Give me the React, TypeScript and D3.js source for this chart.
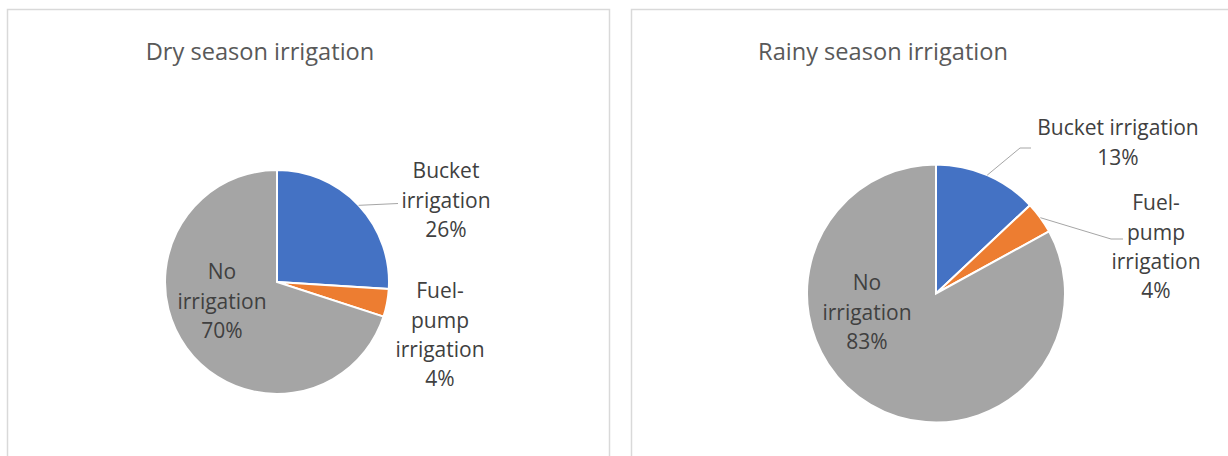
import React from "react";
import * as d3 from "d3";

// Irrigation method shares (%), clockwise from 12 o'clock
const categories = ["Bucket irrigation", "Fuel-pump irrigation", "No irrigation"];
const drySeason = [26, 4, 70];
const rainySeason = [13, 4, 83];
const titles = ["Dry season irrigation", "Rainy season irrigation"];

const colors = ["#4472c4", "#ed7d31", "#a5a5a5"];

type LabelLayout = {
  x: number;
  y: number;
  lines: string[];
  leader?: [number, number][]; // elbow points after the slice edge
};

type Panel = {
  title: string;
  values: number[];
  frame: { x: number; y: number; w: number; h: number };
  titleX: number;
  cx: number;
  cy: number;
  r: number;
  labels: LabelLayout[];
};

const fmt = (v: number) => `${v}%`;

const panels: Panel[] = [
  {
    title: titles[0],
    values: drySeason,
    frame: { x: 7.5, y: 9.5, w: 602, h: 470 },
    titleX: 260,
    cx: 277,
    cy: 282,
    r: 112,
    labels: [
      { x: 446, y: 171, lines: ["Bucket", "irrigation", fmt(drySeason[0])], leader: [[398, 203.5]] },
      { x: 440, y: 291, lines: ["Fuel-", "pump", "irrigation", fmt(drySeason[1])] },
      { x: 222, y: 272, lines: ["No", "irrigation", fmt(drySeason[2])] },
    ],
  },
  {
    title: titles[1],
    values: rainySeason,
    frame: { x: 631.5, y: 9.5, w: 640, h: 470 },
    titleX: 883,
    cx: 936,
    cy: 293.5,
    r: 129,
    labels: [
      { x: 1118, y: 128, lines: ["Bucket irrigation", fmt(rainySeason[0])], leader: [[1020, 148], [1031, 148]] },
      { x: 1156, y: 203, lines: ["Fuel-", "pump", "irrigation", fmt(rainySeason[1])], leader: [[1111, 239], [1123, 239]] },
      { x: 867, y: 283, lines: ["No", "irrigation", fmt(rainySeason[2])] },
    ],
  },
];

const FONT = "'Open Sans', Lato, sans-serif";

function PiePanel({ p }: { p: Panel }) {
  const pie = d3
    .pie<number>()
    .sort(null)
    .value((d) => d)
    .startAngle(0)
    .endAngle(2 * Math.PI);
  const arcs = pie(p.values);
  const arc = d3.arc<d3.PieArcDatum<number>>().innerRadius(0).outerRadius(p.r);
  const lineHeight = 29.3;

  return (
    <g>
      <rect
        x={p.frame.x}
        y={p.frame.y}
        width={p.frame.w}
        height={p.frame.h}
        fill="#ffffff"
        stroke="#d9d9d9"
        strokeWidth={1.5}
      />
      <text
        x={p.titleX}
        y={60}
        textAnchor="middle"
        fontFamily={FONT}
        fontSize={23.6}
        fontWeight={400}
        fill="#595959"
      >
        {p.title}
      </text>
      <g transform={`translate(${p.cx},${p.cy})`}>
        {arcs.map((a, i) => (
          <path key={categories[i]} d={arc(a) || ""} fill={colors[i]} stroke="#ffffff" strokeWidth={2} />
        ))}
      </g>
      {p.labels.map((lb, i) => {
        const a = arcs[i];
        const mid = (a.startAngle + a.endAngle) / 2;
        const sx = p.cx + p.r * Math.sin(mid);
        const sy = p.cy - p.r * Math.cos(mid);
        const pts: [number, number][] = lb.leader ? [[sx, sy], ...lb.leader] : [];
        return (
          <g key={categories[i]}>
            {lb.leader && (
              <path d={d3.line()(pts) || ""} fill="none" stroke="#a6a6a6" strokeWidth={1} />
            )}
            <text
              x={lb.x}
              textAnchor="middle"
              fontFamily={FONT}
              fontSize={21}
              fill="#404040"
            >
              {lb.lines.map((ln, k) => (
                <tspan key={k} x={lb.x} y={lb.y + k * lineHeight} dy="0.35em">
                  {ln}
                </tspan>
              ))}
            </text>
          </g>
        );
      })}
    </g>
  );
}

export default function App() {
  return (
    <svg
      width={1228}
      height={456}
      viewBox="0 0 1228 456"
      style={{ position: "absolute", left: 0, top: 0, background: "#ffffff" }}
    >
      {panels.map((p) => (
        <PiePanel key={p.title} p={p} />
      ))}
    </svg>
  );
}
